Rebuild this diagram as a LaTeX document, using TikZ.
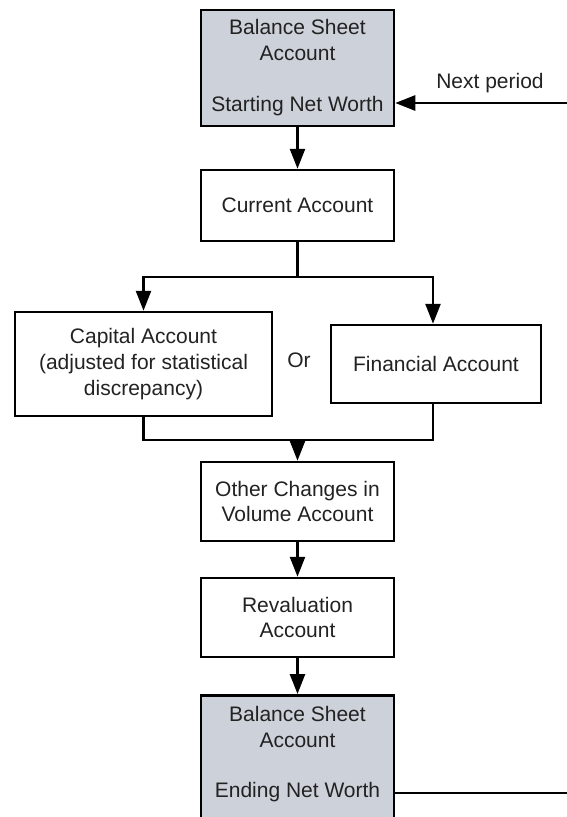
\documentclass[tikz,border=0pt]{standalone}
\usepackage{fontspec}
\setmainfont{Liberation Sans}
\usetikzlibrary{arrows.meta}
\definecolor{boxgrey}{HTML}{CDD1D9}
\definecolor{txt}{HTML}{222222}
\tikzset{
  box/.style={draw=black, line width=2.5pt, fill=white, text=txt, align=center, inner sep=0pt},
  greybox/.style={box, fill=boxgrey},
  conn/.style={line width=2.5pt, draw=black},
  arr/.style={conn, -{Triangle[length=20pt,width=15pt]}},
  lbl/.style={text=txt, inner sep=0pt}
}
\begin{document}
\begin{tikzpicture}[x=1pt,y=-1pt, font=\fontsize{21}{25.7}\selectfont]
\useasboundingbox (0,0) rectangle (567,817);
\clip (0,0) rectangle (567,817);
% nodes (positions in pixel coordinates, y downward)
\node[greybox, minimum width=193pt, minimum height=116pt] (bs1) at (297.5,68) {Balance Sheet\\Account\\[25.7pt]Starting Net Worth};
\node[box, minimum width=193pt, minimum height=71pt] (cur) at (297.5,205.5) {Current Account};
\node[box, minimum width=257pt, minimum height=104pt] (cap) at (143.5,364) {Capital Account\\(adjusted for statistical\\discrepancy)};
\node[lbl] (or) at (299,360) {Or};
\node[box, minimum width=210pt, minimum height=78pt] (fin) at (436,364) {Financial Account};
\node[box, minimum width=193pt, minimum height=79pt] (oth) at (297.5,501.5) {Other Changes in\\Volume Account};
\node[box, minimum width=193pt, minimum height=79pt] (rev) at (297.5,617.5) {Revaluation\\Account};
\node[greybox, minimum width=193pt, minimum height=140pt, anchor=north] (bs2) at (297.5,694) {};
\node[lbl] (bs2a) at (297.5,714) {Balance Sheet};
\node[lbl] (bs2b) at (297.5,740) {Account};
\node[lbl] (bs2c) at (297.5,792) {Ending Net Worth};
\node[lbl] (np) at (490,83) {Next period};
% coordinates
\coordinate (right1) at (567,103);
\coordinate (right2) at (567,793);
\coordinate (split) at (297.5,277);
\coordinate (merge) at (297.5,440);
% connectors
\draw[arr] (right1) -- (bs1.east |- right1);
\draw[arr] (bs1) -- (cur);
\draw[conn] (cur.south) -- (split);
\draw[arr] (split) -| (cap.north);
\draw[arr] (split) -| (fin.north -| 433,0);
\draw[conn] (cap.south) |- (merge) -| (fin.south -| 433,0);
\draw[arr] (merge) -- (oth.north);
\draw[arr] (oth) -- (rev);
\draw[arr] (rev) -- (bs2);
\draw[conn] (bs2.east |- right2) -- (right2);
\end{tikzpicture}
\end{document}
